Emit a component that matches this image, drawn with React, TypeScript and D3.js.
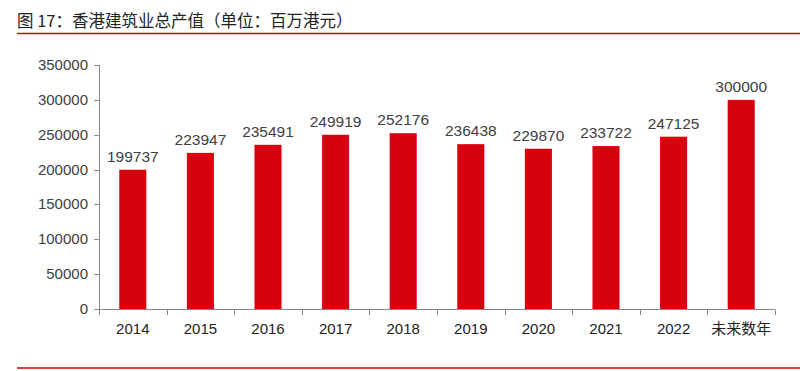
import * as d3 from 'd3';

const years = ['2014', '2015', '2016', '2017', '2018', '2019', '2020', '2021', '2022', '未来数年'];
const output = [199737, 223947, 235491, 249919, 252176, 236438, 229870, 233722, 247125, 300000];
const yTicks = [0, 50000, 100000, 150000, 200000, 250000, 300000, 350000];

const width = 800;
const height = 371;

const App = () => {
  const x = d3.scaleBand<string>().domain(years).range([99, 775]).paddingInner(0.6).paddingOuter(0.3);
  const y = d3.scaleLinear().domain([0, 350000]).range([309, 65]);
  const step = x.step();
  const x0 = 99;
  const font = '"Liberation Sans", Arial, sans-serif';

  return (
    <svg width={width} height={height} style={{ position: 'absolute', left: 0, top: 0 }}>
      <rect width={width} height={height} fill="#fff" />
      <text x={17} y={27} fontSize={16.5} fill="#222" fontFamily={'"Noto Sans CJK SC", sans-serif'}>
        图 17：香港建筑业总产值（单位：百万港元）
      </text>
      <line x1={17} x2={800} y1={33.5} y2={33.5} stroke="#c00000" strokeWidth={1.3} />

      {/* bars */}
      {years.map((c, i) => (
        <g key={c}>
          <rect x={x(c)} y={y(output[i])} width={x.bandwidth()} height={y(0) - y(output[i])} fill="#d7000f" />
          <text x={(x(c) ?? 0) + x.bandwidth() / 2} y={y(output[i]) - 8} textAnchor="middle" fontSize={15.5}
            fill="#404040" fontFamily={font}>{output[i]}</text>
        </g>
      ))}

      {/* y axis */}
      <line x1={99.5} x2={99.5} y1={y(350000)} y2={y(0)} stroke="#888" />
      {yTicks.map(t => (
        <g key={t}>
          <line x1={94} x2={99.5} y1={Math.round(y(t)) + 0.5} y2={Math.round(y(t)) + 0.5} stroke="#888" />
          <text x={88} y={y(t) + 5} textAnchor="end" fontSize={15} fill="#404040" fontFamily={font}>{t}</text>
        </g>
      ))}

      {/* x axis */}
      <line x1={99} x2={775} y1={309.5} y2={309.5} stroke="#888" />
      {d3.range(years.length + 1).map(i => (
        <line key={i} x1={Math.round(x0 + i * step) + 0.5} x2={Math.round(x0 + i * step) + 0.5} y1={309.5} y2={315}
          stroke="#888" />
      ))}
      {years.map(c => (
        <text key={c} x={(x(c) ?? 0) + x.bandwidth() / 2} y={334} textAnchor="middle" fontSize={15} fill="#222"
          fontFamily={c === '未来数年' ? '"Noto Sans CJK SC", sans-serif' : font}>{c}</text>
      ))}

      <line x1={17} x2={800} y1={368} y2={368} stroke="#c00000" strokeWidth={1.3} />
    </svg>
  );
};

export default App;
